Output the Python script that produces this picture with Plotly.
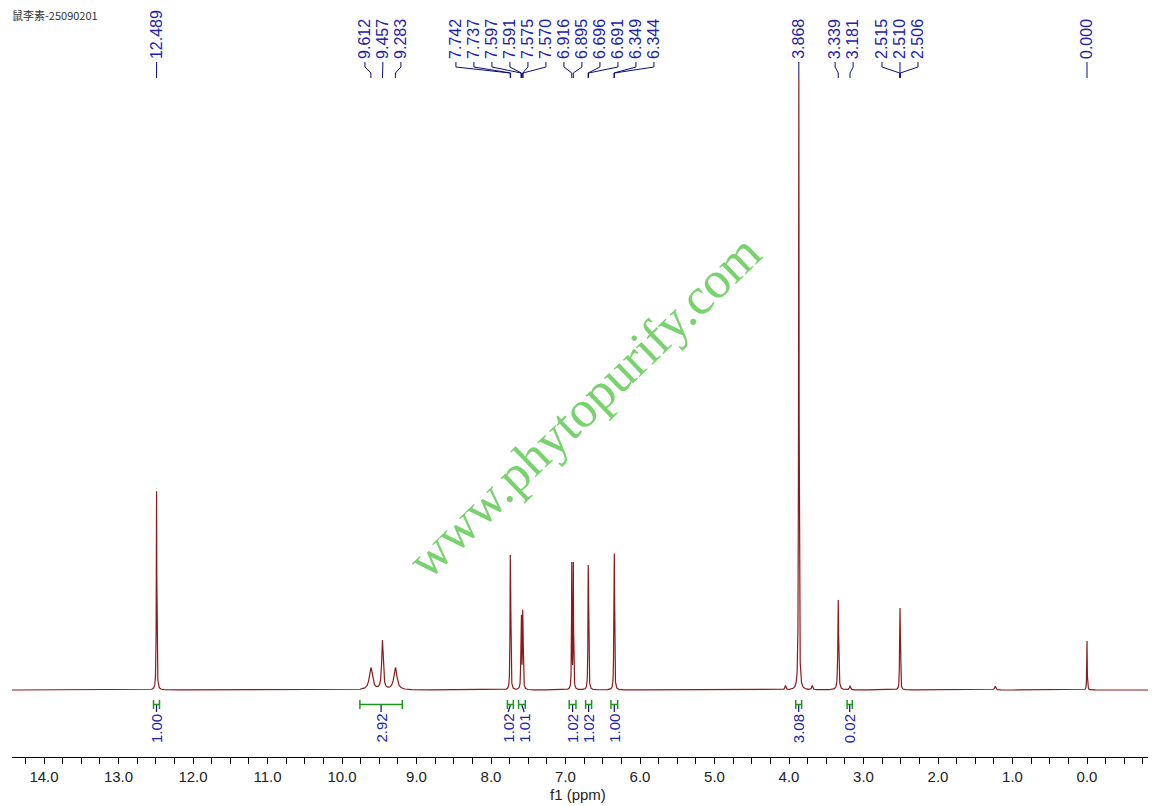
import numpy as np
import plotly.graph_objects as go

# ---------------- data ----------------
title_text = "鼠李素-25090201"

# labelled peak lines: chemical shift (ppm), relative intensity (% of tallest), half width (ppm)
peak_ppm = [12.489, 9.612, 9.457, 9.283, 7.742, 7.737, 7.597, 7.591, 7.575, 7.570,
            6.916, 6.895, 6.696, 6.691, 6.349, 6.344, 3.868, 3.339, 3.181,
            2.515, 2.510, 2.506, 0.000]
peak_int = [32.5, 3.6, 8.0, 3.6, 16.2, 16.2, 9.2, 9.2, 9.2, 9.2,
            20.4, 20.4, 15.0, 15.0, 16.4, 16.4, 100.0, 14.7, 0.7,
            5.5, 9.2, 5.5, 8.0]
peak_hw = [0.004, 0.025, 0.012, 0.025, 0.0035, 0.0035, 0.0035, 0.0035, 0.0035, 0.0035,
           0.0035, 0.0035, 0.0035, 0.0035, 0.0035, 0.0035, 0.004, 0.006, 0.008,
           0.0035, 0.0035, 0.0035, 0.0035]

# small unlabelled signals (13C satellites, impurity)
minor_ppm = [4.048, 3.688, 1.232]
minor_int = [0.7, 0.7, 0.6]
minor_hw = [0.008, 0.008, 0.010]

# integrals: start ppm, end ppm, value
int_from = [12.53, 9.76, 7.78, 7.63, 6.95, 6.73, 6.39, 3.91, 3.22]
int_to = [12.45, 9.19, 7.70, 7.54, 6.86, 6.65, 6.30, 3.83, 3.15]
int_val = ["1.00", "2.92", "1.02", "1.01", "1.02", "1.02", "1.00", "3.08", "0.02"]

x_title = "f1 (ppm)"

# ---------------- geometry helpers (screen pixels) ----------------
OFF = 8                           # page body margin
W, H = 1156 - OFF, 806 - OFF
PX0, PPU = 1087.0, 74.5           # screen pixel of 0 ppm, pixels per ppm
LPX, RPX = 12, 1148               # plot area left/right (screen)
TOPPX = OFF                       # plot area top (screen)
AX_Y, BASE_Y, TOP_Y = 757, 690, 78


def ppm_of_px(px):
    return (PX0 - px) / PPU


def px_of_ppm(p):
    return PX0 - p * PPU


def yrel(py):
    return (BASE_Y - py) * 100.0 / (BASE_Y - TOP_Y)


def ypap(py):
    return (AX_Y - py) / (AX_Y - TOPPX)


def xpap(px):
    return (px - LPX) / (RPX - LPX)


def spread(pxs, gap):
    """Spread label positions (ascending pixels) so they are at least gap apart."""
    blocks = [[i] for i in range(len(pxs))]
    centers = [pxs[i] for i in range(len(pxs))]
    changed = True
    while changed:
        changed = False
        for k in range(len(blocks) - 1):
            a, b = blocks[k], blocks[k + 1]
            ea = centers[k] + (len(a) - 1) * gap / 2
            sb = centers[k + 1] - (len(b) - 1) * gap / 2
            if sb - ea < gap:
                merged = a + b
                blocks[k] = merged
                centers[k] = float(np.mean([pxs[i] for i in merged]))
                del blocks[k + 1]
                del centers[k + 1]
                changed = True
                break
    out = [0.0] * len(pxs)
    for blk, c in zip(blocks, centers):
        n = len(blk)
        for j, i in enumerate(blk):
            out[i] = c + (j - (n - 1) / 2) * gap
    return out


# ---------------- spectrum ----------------
x = np.linspace(ppm_of_px(LPX), ppm_of_px(RPX), 30001)
y = np.zeros_like(x)
for p, h, w in zip(peak_ppm + minor_ppm, peak_int + minor_int, peak_hw + minor_hw):
    y += h / (1 + ((x - p) / w) ** 2)

fig = go.Figure()
fig.add_trace(go.Scatter(x=x, y=y, mode="lines",
                         line=dict(color="#8b1a1a", width=1.2),
                         hoverinfo="skip", showlegend=False))

# ---------------- peak labels ----------------
NAVY = "#0c0c7a"
BLUE = "#2222aa"
peak_px = [px_of_ppm(p) for p in peak_ppm]
lab_px = spread(peak_px, 18.0)
cx, cy = [], []
annotations = []
for p, ppx, lpx in zip(peak_ppm, peak_px, lab_px):
    lp = ppm_of_px(lpx)
    cx += [lp, lp, p, p, None]
    cy += [yrel(62), yrel(67), yrel(73), yrel(78), None]
    annotations.append(dict(x=lp, xref="x", y=ypap(61), yref="paper",
                            text=f"{p:.3f}", textangle=-90, showarrow=False,
                            xanchor="center", yanchor="bottom",
                            font=dict(family="Liberation Sans", size=16, color=BLUE)))
fig.add_trace(go.Scatter(x=cx, y=cy, mode="lines", line=dict(color=NAVY, width=1),
                         hoverinfo="skip", showlegend=False))

# ---------------- integrals ----------------
GREEN = "#1e961e"
gx, gy = [], []
ix, iy = [], []
icen_px = [px_of_ppm((a + b) / 2) for a, b in zip(int_from, int_to)]
ilab_px = spread(icen_px, 16.0)
for a, b, v, cpx, lpx in zip(int_from, int_to, int_val, icen_px, ilab_px):
    gx += [a, a, None, a, b, None, b, b, None]
    gy += [yrel(700), yrel(709), None, yrel(704.5), yrel(704.5), None, yrel(700), yrel(709), None]
    c = (a + b) / 2
    lp = ppm_of_px(lpx)
    ix += [c, lp, None]
    iy += [yrel(705), yrel(712), None]
    annotations.append(dict(x=lp, xref="x", y=ypap(712), yref="paper",
                            text=v, textangle=-90, showarrow=False,
                            xanchor="center", yanchor="top",
                            font=dict(family="Liberation Sans", size=15, color=BLUE)))
fig.add_trace(go.Scatter(x=ix, y=iy, mode="lines", line=dict(color=NAVY, width=1.2),
                         hoverinfo="skip", showlegend=False))
fig.add_trace(go.Scatter(x=gx, y=gy, mode="lines", line=dict(color=GREEN, width=1.5),
                         hoverinfo="skip", showlegend=False))

# ---------------- text ----------------
annotations.append(dict(x=ppm_of_px(584), xref="x", y=ypap(407), yref="paper",
                        text="www.phytopurify.com", textangle=-44, showarrow=False,
                        xanchor="center", yanchor="middle",
                        font=dict(family="Liberation Serif", size=52, color="#78d26e")))
annotations.append(dict(x=xpap(10), xref="paper", y=ypap(15), yref="paper",
                        text=title_text, showarrow=False, xanchor="left", yanchor="middle",
                        font=dict(family="Noto Sans CJK SC", size=11, color="#333333")))
annotations.append(dict(x=ppm_of_px(578), xref="x", y=ypap(794), yref="paper",
                        text=x_title, showarrow=False, xanchor="center", yanchor="middle",
                        font=dict(family="Liberation Sans", size=15, color="#222222")))

fig.update_layout(
    width=W, height=H,
    margin=dict(l=LPX - OFF, r=W - (RPX - OFF), t=TOPPX - OFF, b=H - (AX_Y - OFF), pad=0),
    paper_bgcolor="white", plot_bgcolor="white",
    showlegend=False,
    annotations=annotations,
    xaxis=dict(range=[ppm_of_px(LPX), ppm_of_px(RPX)], showline=True, linecolor="black",
               linewidth=1, ticks="outside", ticklen=6, tickcolor="black", tickwidth=1,
               dtick=1, tick0=0, tickformat=".1f", showgrid=False, zeroline=False,
               ticklabelstandoff=0,
               minor=dict(dtick=0.25, ticks="outside", ticklen=6, tickcolor="black",
                          showgrid=False),
               tickfont=dict(family="Liberation Sans", size=15, color="#222222")),
    yaxis=dict(range=[yrel(AX_Y), yrel(TOPPX)], visible=False, showgrid=False, zeroline=False),
)

fig.write_html("out.html")
